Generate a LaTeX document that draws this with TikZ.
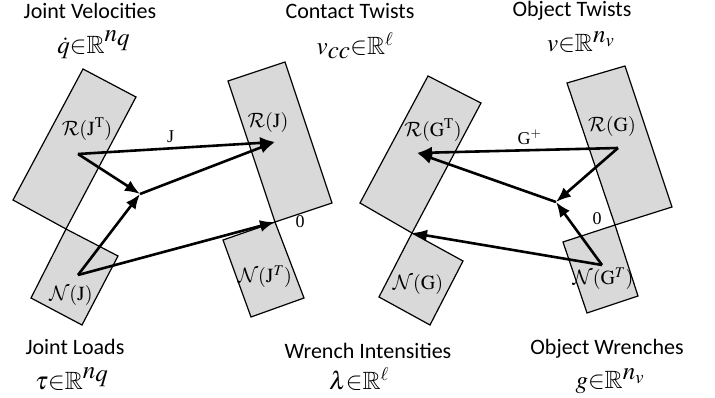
\documentclass[tikz,border=0pt]{standalone}
\usepackage{amsmath, amssymb}
\usepackage{mathptmx}
\usepackage{fontspec}
\setmainfont{Liberation Serif}
\newfontfamily\headfont{Carlito}
\DeclareMathAlphabet{\mathcal}{OMS}{cmsy}{m}{n}
\usetikzlibrary{arrows.meta}

\tikzset{
    subspace/.style={draw, line width=1.2pt, fill=gray!30, line join=miter},
    map/.style={line width=2.6pt, -{Latex[length=15pt, width=12pt]}},
    heading/.style={inner sep=0pt, font=\headfont\fontsize{22}{26}\selectfont},
    setname/.style={inner sep=0pt, font=\fontsize{25}{30}\selectfont},
    spacelab/.style={font=\fontsize{20}{24}\selectfont},
    maplab/.style={font=\fontsize{18}{22}\selectfont}
}

\begin{document}
\begin{tikzpicture}[x=1pt, y=-1pt]
    \useasboundingbox (0,0) rectangle (715,398);

    % subspaces, joint side and contact side
    \draw[subspace] (83,69) -- (136,97) -- (66,229) -- (13,200) -- cycle;
    \draw[subspace] (66,229) -- (118,256) -- (82,325) -- (31,298) -- cycle;
    \draw[subspace] (228,81) -- (285,62) -- (332,203) -- (275,222) -- cycle;
    \draw[subspace] (275,222) -- (223,240) -- (251,317) -- (304,298) -- cycle;
    % subspaces, contact side and object side
    \draw[subspace] (428,76) -- (481,103) -- (412,233) -- (360,203) -- cycle;
    \draw[subspace] (412,233) -- (463,261) -- (430,325) -- (379,297) -- cycle;
    \draw[subspace] (567,83) -- (625,66) -- (672,207) -- (615,225) -- cycle;
    \draw[subspace] (615,225) -- (563,242) -- (587,313) -- (638,296) -- cycle;

    % space labels
    \node[spacelab] (rjt) at (87,129) {$\mathcal{R}(\mathrm{J}^{\mathrm{T}})$};
    \node[spacelab] (rj) at (268,123) {$\mathcal{R}(\mathrm{J})$};
    \node[spacelab] (nj) at (71,295) {$\mathcal{N}(\mathrm{J})$};
    \node[spacelab] (njt) at (265,277) {$\mathcal{N}(\mathrm{J}^{T})$};
    \node[spacelab] (rgt) at (433,130) {$\mathcal{R}(\mathrm{G}^{\mathrm{T}})$};
    \node[spacelab] (rg) at (612,127) {$\mathcal{R}(\mathrm{G})$};
    \node[spacelab] (ng) at (418,284) {$\mathcal{N}(\mathrm{G})$};
    \node[spacelab] (ngt) at (603,279) {$\mathcal{N}(\mathrm{G}^{T})$};

    % vectors
    \coordinate (pj) at (78,154);
    \coordinate (qj) at (275,142);
    \coordinate (mj) at (140,194);
    \coordinate (tj) at (78,275);
    \coordinate (zj) at (275,222);
    \coordinate (pg) at (618,148);
    \coordinate (qg) at (417,153);
    \coordinate (mg) at (556,202);
    \coordinate (tg) at (602,265);
    \coordinate (zg) at (412,233);

    \draw[map] (pj) -- (qj) node[maplab, pos=0.47, above=1pt] (jmap) {J};
    \draw[map] (pj) -- (mj);
    \draw[map] (mj) -- (qj);
    \draw[map] (tj) -- (mj);
    \draw[map] (tj) -- (zj);
    \node[maplab] (zjlab) at (300,222) {0};

    \draw[map] (pg) -- (qg) node[maplab, pos=0.44, above=1pt] (gmap) {G$^{+}$};
    \draw[map] (pg) -- (mg);
    \draw[map] (mg) -- (qg);
    \draw[map] (tg) -- (mg);
    \draw[map] (tg) -- (zg);
    \node[maplab] (zglab) at (597,219) {0};

    % headings
    \node[heading] (jv) at (90,11) {Joint Velocities};
    \node[setname] (jvset) at (94,45) {$\dot{q}{\in}\mathbb{R}^{\textstyle n_{\textstyle q}}$};
    \node[heading] (ct) at (350,11) {Contact Twists};
    \node[setname] (ctset) at (355,46) {$v_{\textstyle cc}{\in}\mathbb{R}^{\ell}$};
    \node[heading] (ot) at (572,11) {Object Twists};
    \node[setname] (otset) at (581,42) {$v{\in}\mathbb{R}^{\textstyle n_v}$};
    \node[heading] (jl) at (75,347) {Joint Loads};
    \node[setname] (jlset) at (72,379) {$\tau{\in}\mathbb{R}^{\textstyle n_{\textstyle q}}$};
    \node[heading] (wi) at (368,351) {Wrench Intensities};
    \node[setname] (wiset) at (359,379) {$\lambda{\in}\mathbb{R}^{\ell}$};
    \node[heading] (ow) at (607,349) {Object Wrenches};
    \node[setname] (owset) at (610,381) {$g{\in}\mathbb{R}^{\textstyle n_v}$};
\end{tikzpicture}
\end{document}
